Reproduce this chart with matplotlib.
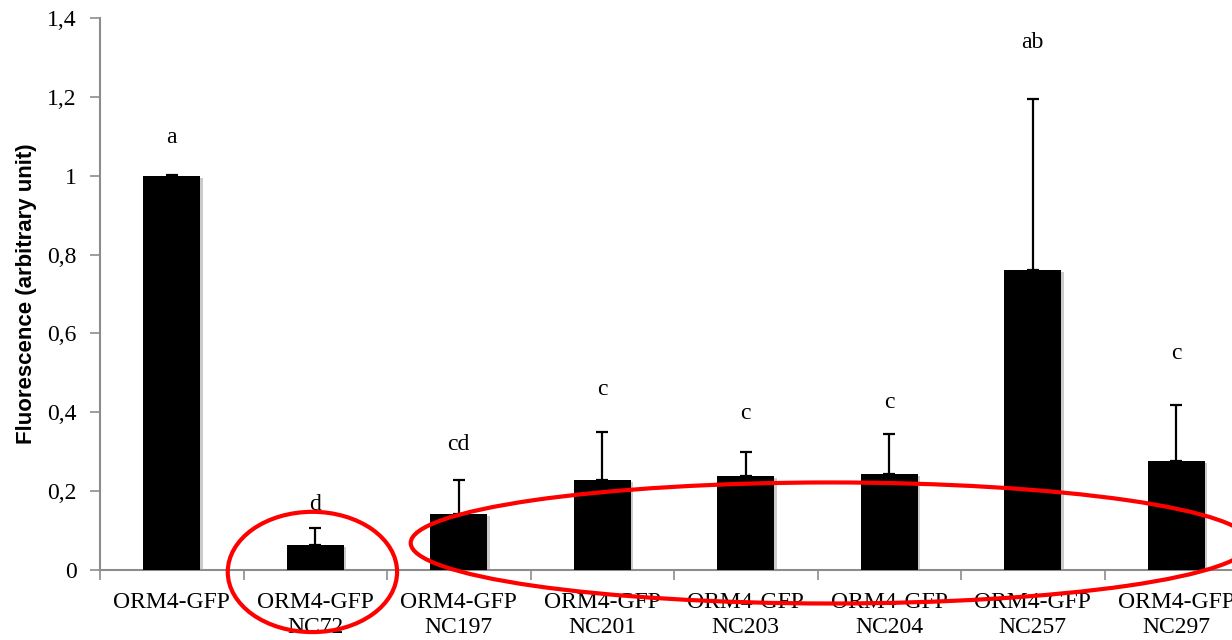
import matplotlib
matplotlib.use("Agg")
import matplotlib.pyplot as plt
import matplotlib.patheffects as pe
from matplotlib.patches import Ellipse
from matplotlib.ticker import FixedLocator, FuncFormatter
import numpy as np

# Data
labels = ["ORM4-GFP", "ORM4-GFP\nNC72", "ORM4-GFP\nNC197", "ORM4-GFP\nNC201",
          "ORM4-GFP\nNC203", "ORM4-GFP\nNC204", "ORM4-GFP\nNC257", "ORM4-GFP\nNC297"]
means = [1.0, 0.063, 0.142, 0.228, 0.238, 0.243, 0.761, 0.276]
errors = [0.002, 0.044, 0.086, 0.122, 0.062, 0.102, 0.434, 0.143]
letters = ["a", "d", "cd", "c", "c", "c", "ab", "c"]
letter_y = [1.098, 0.165, 0.317, 0.457, 0.398, 0.424, 1.337, 0.55]

serif = "Liberation Serif"
gray = "#8c8c8c"

fig = plt.figure(figsize=(12.32, 6.4), dpi=100)
ax = fig.add_axes([0.0812, 0.1094, 0.9318, 0.8625])

x = np.arange(len(labels))
bars = ax.bar(x, means, width=0.40, color="black", zorder=3)
for b in bars:
    b.set_path_effects([pe.SimplePatchShadow(offset=(1.5, -1.5), shadow_rgbFace="#999999", alpha=0.5),
                        pe.Normal()])

ax.errorbar(x, means, yerr=[np.zeros(len(means)), errors], fmt="none",
            ecolor="black", elinewidth=1.6, capsize=4.5, capthick=1.6, zorder=4)

for xi, t, ty in zip(x, letters, letter_y):
    ax.text(xi, ty, t, ha="center", va="center", fontsize=17, family=serif)

# Circled groups
ax.add_patch(Ellipse((0.98, -0.005), 1.18, 0.305, fill=False, edgecolor="red",
                     linewidth=3, clip_on=False, zorder=5))
ax.add_patch(Ellipse((4.59, 0.0685), 5.85, 0.307, fill=False, edgecolor="red",
                     linewidth=3, clip_on=False, zorder=5))

ax.set_xlim(-0.5, len(labels) - 0.5)
ax.set_ylim(0, 1.4)

ax.set_yticks(np.arange(0, 1.41, 0.2))
ax.yaxis.set_major_formatter(FuncFormatter(lambda v, p: f"{v:.1f}".rstrip("0").rstrip(".").replace(".", ",")))
ax.tick_params(axis="y", direction="out", length=7, width=1.2, color=gray,
               labelsize=17, pad=10)

ax.set_xticks(x)
ax.set_xticklabels(labels, family=serif, fontsize=17, linespacing=1.25)
ax.xaxis.set_minor_locator(FixedLocator(np.arange(-0.5, len(labels), 1.0)))
ax.tick_params(axis="x", which="major", length=0, pad=16)
ax.tick_params(axis="x", which="minor", direction="out", length=7, width=1.2, color=gray)
for lab in ax.get_yticklabels():
    lab.set_family(serif)

for s in ["top", "right"]:
    ax.spines[s].set_visible(False)
for s in ["left", "bottom"]:
    ax.spines[s].set_color(gray)
    ax.spines[s].set_linewidth(1.5)

ax.set_ylabel("Fluorescence (arbitrary unit)", family="Liberation Sans",
              fontweight="bold", fontsize=16)
ax.yaxis.set_label_coords(-0.055, 0.5)

fig.savefig("out.png", dpi=100, facecolor="white")
